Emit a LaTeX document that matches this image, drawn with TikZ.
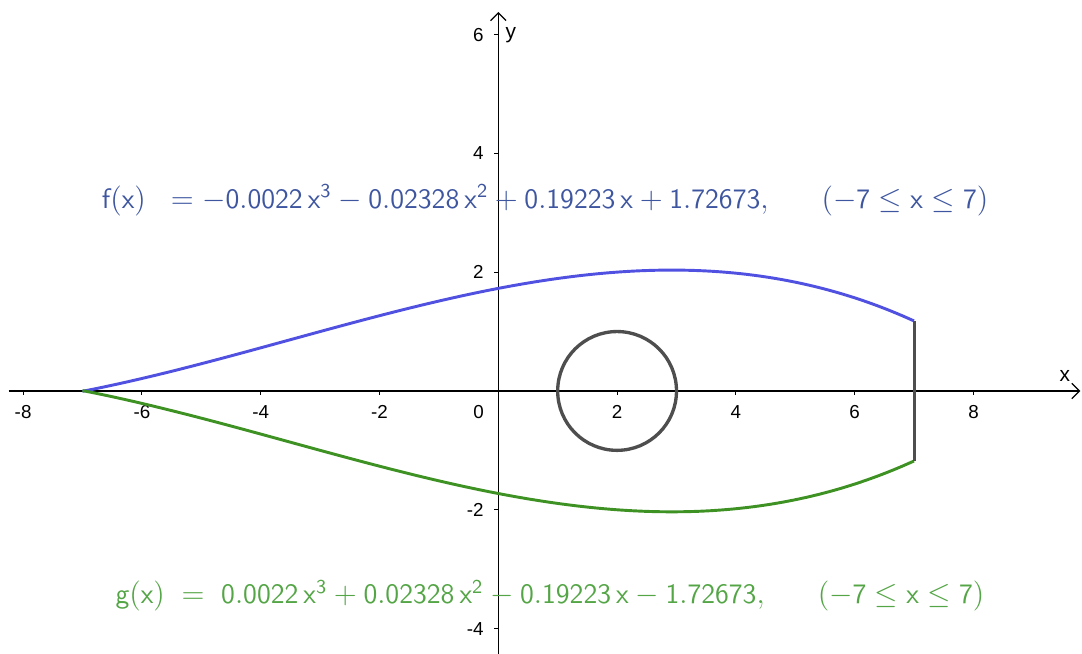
\documentclass[tikz,border=0pt]{standalone}
\usepackage{amsmath}
\usepackage{fontspec}
\newfontfamily\axisfont{Liberation Sans}
\usetikzlibrary{arrows.meta}
\definecolor{fblue}{RGB}{80,80,225}
\definecolor{ftext}{RGB}{62,86,160}
\definecolor{ggreen}{RGB}{62,145,35}
\definecolor{gtext}{RGB}{84,165,70}
\definecolor{rimgray}{RGB}{78,78,78}
\newcommand{\sx}{\mathsf{x}}

\begin{document}
\begin{tikzpicture}[
  declare function={fx(\t)=-0.0022*\t*\t*\t-0.02328*\t*\t+0.19223*\t+1.72673;},
  axis/.style={line width=0.6pt, -{Straight Barb[length=1.3mm, width=2.6mm]}},
  tickmark/.style={line width=0.5pt},
  numlabel/.style={font=\axisfont\fontsize{9}{10}\selectfont, inner sep=0pt},
  axisname/.style={font=\axisfont\fontsize{10}{12}\selectfont, inner sep=0pt, anchor=base},
  fcurve/.style={line width=1.4pt, color=fblue},
  gcurve/.style={line width=1.4pt, color=ggreen},
  ring/.style={line width=1.6pt, color=rimgray},
  eqn/.style={anchor=base west, inner sep=0pt, font=\fontsize{13.5}{16}\selectfont}]
  \useasboundingbox (-8.389,-4.428) rectangle (9.827,6.582);
  % axes
  \draw[axis] (-8.244,0) -- (9.80,0);
  \draw[axis] (0,-4.43) -- (0,6.38);
  \node[axisname] (xname) at (9.54,0.157) {x};
  \node[axisname] (yname) at (0.21,5.94) {y};
  \foreach \i in {-8,-6,-4,-2,2,4,6,8} {
    \draw[tickmark] (\i,0) -- (\i,-0.07);
    \node[numlabel] (xl\i) at (\i,-0.35) {\i};
  }
  \node[numlabel] (xl0) at (-0.33,-0.35) {0};
  \foreach \j in {-4,-2,2,4,6} {
    \draw[tickmark] (0,\j) -- (-0.07,\j);
    \node[numlabel, anchor=east] (yl\j) at (-0.24,\j) {\j};
  }
  % curves
  \draw[fcurve] plot[domain=-7:7, samples=140] (\x,{fx(\x)});
  \draw[gcurve] plot[domain=-7:7, samples=140] (\x,{-fx(\x)});
  \coordinate (ftip) at (7,{fx(7)});
  \coordinate (gtip) at (7,{-fx(7)});
  \draw[ring, line width=1.5pt] (ftip) -- (gtip);
  \draw[ring] (2,0) circle (1);
  % equations
  \node[eqn, text=ftext] (feq) at (-6.68,3.08) {$\mathsf{f(x)}\;\;=-\mathsf{0.0022}\,\sx^{\mathsf{3}}-\mathsf{0.02328}\,\sx^{\mathsf{2}}+\mathsf{0.19223}\,\sx+\mathsf{1.72673},\hspace{23pt}(-\mathsf{7}\leq\sx\leq\mathsf{7})$};
  \node[eqn, text=gtext] (geq) at (-6.45,-3.586) {$\mathsf{g(x)}\;=\;\mathsf{0.0022}\,\sx^{\mathsf{3}}+\mathsf{0.02328}\,\sx^{\mathsf{2}}-\mathsf{0.19223}\,\sx-\mathsf{1.72673},\hspace{23pt}(-\mathsf{7}\leq\sx\leq\mathsf{7})$};
\end{tikzpicture}
\end{document}
